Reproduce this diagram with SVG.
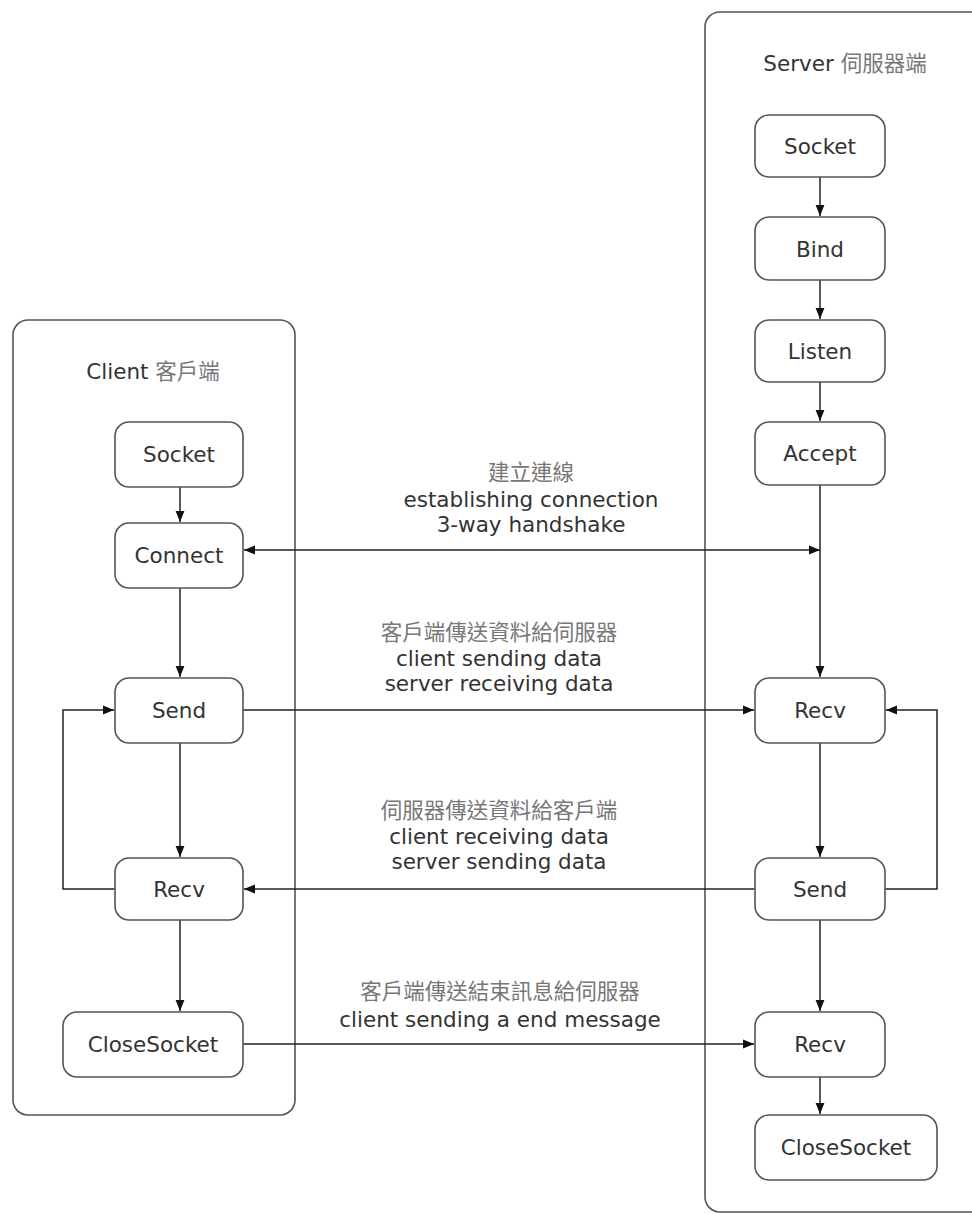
<svg xmlns="http://www.w3.org/2000/svg" width="972" height="1214" viewBox="0 0 972 1214">
<style>
.box{fill:#fff;stroke:#555;stroke-width:1.6}
.cont{fill:#fff;stroke:#555;stroke-width:1.6}
.t{font-family:"DejaVu Sans","Noto Sans CJK TC",sans-serif;font-size:21.5px;fill:#333;text-anchor:middle}
.cjk{fill:#777}
.c{fill:none;stroke:#222;stroke-width:1.5}
</style>
<defs>
<marker id="a" viewBox="0 0 10 10" refX="10" refY="5" markerWidth="11" markerHeight="11" markerUnits="userSpaceOnUse" orient="auto-start-reverse">
<path d="M0,1 L10,5 L0,9 Z" fill="#111"/>
</marker>
</defs>
<rect width="972" height="1214" fill="#fff"/>
<g id="client">
<rect class="cont" x="13" y="320" width="282" height="795" rx="15"/>
<text class="t" x="153" y="379">Client <tspan class="cjk">客戶端</tspan></text>
</g>
<g id="server">
<rect class="cont" x="705" y="12" width="300" height="1200" rx="15"/>
<text class="t" x="845" y="71">Server <tspan class="cjk">伺服器端</tspan></text>
</g>
<g id="connectors">
<line class="c" x1="180" y1="487" x2="180" y2="522" marker-end="url(#a)"/>
<line class="c" x1="180" y1="588" x2="180" y2="677" marker-end="url(#a)"/>
<line class="c" x1="180" y1="743" x2="180" y2="857" marker-end="url(#a)"/>
<line class="c" x1="180" y1="920" x2="180" y2="1011" marker-end="url(#a)"/>
<polyline class="c" points="115,889 63,889 63,710 114,710" marker-end="url(#a)"/>
<line class="c" x1="820" y1="177" x2="820" y2="216" marker-end="url(#a)"/>
<line class="c" x1="820" y1="280" x2="820" y2="319" marker-end="url(#a)"/>
<line class="c" x1="820" y1="382" x2="820" y2="421" marker-end="url(#a)"/>
<line class="c" x1="820" y1="485" x2="820" y2="677" marker-end="url(#a)"/>
<line class="c" x1="820" y1="743" x2="820" y2="857" marker-end="url(#a)"/>
<line class="c" x1="820" y1="920" x2="820" y2="1011" marker-end="url(#a)"/>
<line class="c" x1="820" y1="1077" x2="820" y2="1114" marker-end="url(#a)"/>
<polyline class="c" points="885,889 937,889 937,710 886,710" marker-end="url(#a)"/>
<line class="c" x1="244" y1="550" x2="820" y2="550" marker-start="url(#a)" marker-end="url(#a)"/>
<line class="c" x1="243" y1="710" x2="754" y2="710" marker-end="url(#a)"/>
<line class="c" x1="755" y1="889" x2="244" y2="889" marker-end="url(#a)"/>
<line class="c" x1="243" y1="1044" x2="754" y2="1044" marker-end="url(#a)"/>
<text class="t" x="531" y="480"><tspan class="cjk">建立連線</tspan></text>
<text class="t" x="531" y="507">establishing connection</text>
<text class="t" x="531" y="532">3-way handshake</text>
<text class="t" x="499" y="640"><tspan class="cjk">客戶端傳送資料給伺服器</tspan></text>
<text class="t" x="499" y="666">client sending data</text>
<text class="t" x="499" y="691">server receiving data</text>
<text class="t" x="499" y="818"><tspan class="cjk">伺服器傳送資料給客戶端</tspan></text>
<text class="t" x="499" y="844">client receiving data</text>
<text class="t" x="499" y="869">server sending data</text>
<text class="t" x="500" y="999"><tspan class="cjk">客戶端傳送結束訊息給伺服器</tspan></text>
<text class="t" x="500" y="1027">client sending a end message</text>
</g>
<g id="c-socket"><rect class="box" x="115" y="422" width="128" height="65" rx="14"/><text class="t" x="179" y="462">Socket</text></g>
<g id="c-connect"><rect class="box" x="115" y="523" width="128" height="65" rx="14"/><text class="t" x="179" y="563">Connect</text></g>
<g id="c-send"><rect class="box" x="115" y="678" width="128" height="65" rx="14"/><text class="t" x="179" y="718">Send</text></g>
<g id="c-recv"><rect class="box" x="115" y="858" width="128" height="62" rx="14"/><text class="t" x="179" y="897">Recv</text></g>
<g id="c-close"><rect class="box" x="63" y="1012" width="180" height="65" rx="14"/><text class="t" x="153" y="1052">CloseSocket</text></g>
<g id="s-socket"><rect class="box" x="755" y="115" width="130" height="62" rx="14"/><text class="t" x="820" y="154">Socket</text></g>
<g id="s-bind"><rect class="box" x="755" y="217" width="130" height="63" rx="14"/><text class="t" x="820" y="257">Bind</text></g>
<g id="s-listen"><rect class="box" x="755" y="320" width="130" height="62" rx="14"/><text class="t" x="820" y="359">Listen</text></g>
<g id="s-accept"><rect class="box" x="755" y="422" width="130" height="63" rx="14"/><text class="t" x="820" y="461">Accept</text></g>
<g id="s-recv"><rect class="box" x="755" y="678" width="130" height="65" rx="14"/><text class="t" x="820" y="718">Recv</text></g>
<g id="s-send"><rect class="box" x="755" y="858" width="130" height="62" rx="14"/><text class="t" x="820" y="897">Send</text></g>
<g id="s-recv2"><rect class="box" x="755" y="1012" width="130" height="65" rx="14"/><text class="t" x="820" y="1052">Recv</text></g>
<g id="s-close"><rect class="box" x="755" y="1115" width="182" height="65" rx="14"/><text class="t" x="846" y="1155">CloseSocket</text></g>
</svg>
